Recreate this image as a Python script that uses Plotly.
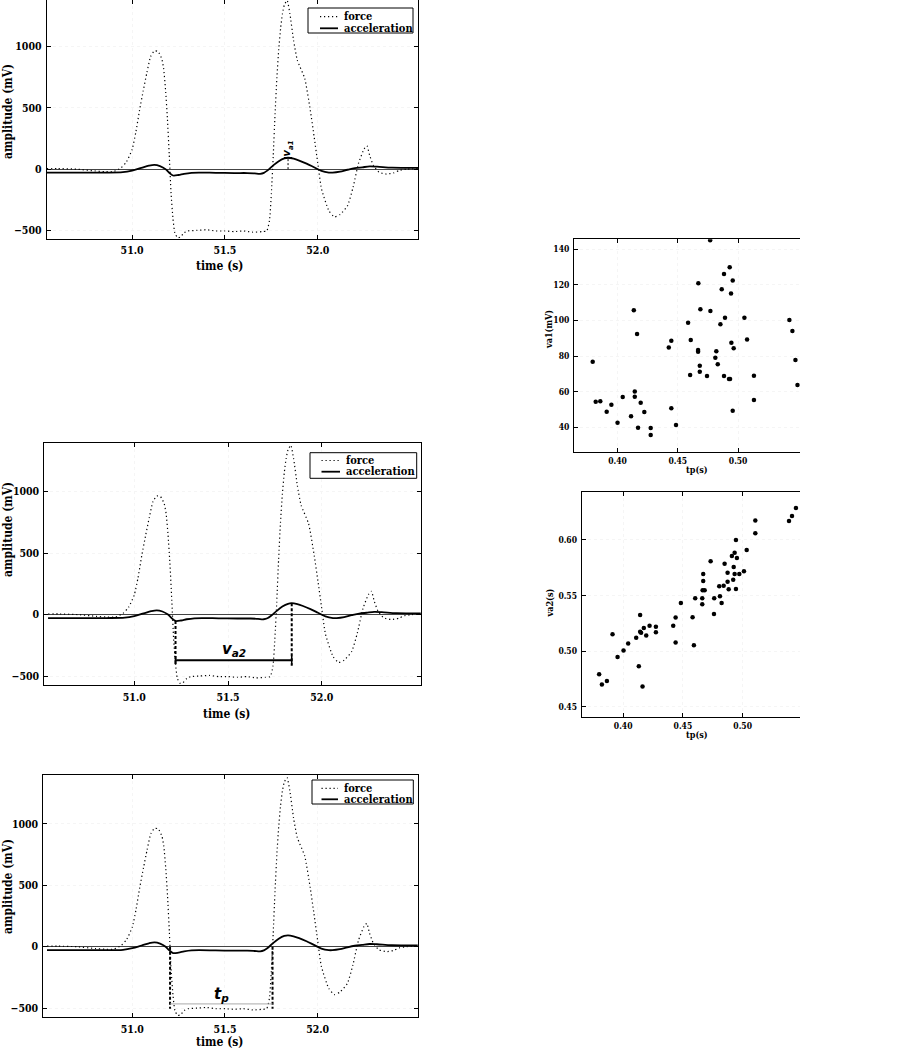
import numpy as np
import plotly.graph_objects as go

W, H = 913, 1048

# ---------------- data ----------------
force_time = [50.54, 50.60, 50.70, 50.80, 50.85, 50.90, 50.94, 50.97, 51.00, 51.02, 51.04, 51.06,
              51.08, 51.10, 51.12, 51.14, 51.16, 51.17, 51.18, 51.19, 51.20, 51.21, 51.22, 51.23,
              51.245, 51.26, 51.28, 51.30, 51.35, 51.40, 51.45, 51.50, 51.55, 51.60, 51.65, 51.70,
              51.725, 51.74, 51.75, 51.76, 51.77, 51.78, 51.79, 51.80, 51.81, 51.82, 51.835, 51.85,
              51.87, 51.89, 51.93, 51.96, 51.98, 52.00, 52.02, 52.06, 52.09, 52.12, 52.16, 52.19,
              52.22, 52.25, 52.265, 52.28, 52.30, 52.33, 52.37, 52.41, 52.44, 52.48, 52.54]
force_mv = [5, 5, 0, -15, -20, -20, 10, 60, 160, 300, 480, 640,
            790, 920, 965, 960, 900, 820, 650, 420, 120, -200, -400, -520,
            -560, -555, -520, -505, -500, -495, -505, -505, -510, -505, -515, -510,
            -505, -420, -200, 100, 450, 750, 980, 1150, 1270, 1340, 1378, 1270,
            1050, 890, 740, 480, 270, 50, -160, -340, -390, -370, -300, -150,
            50, 165, 190, 110, 30, -25, -40, -30, -10, 0, 5]

accel_time = [50.54, 50.70, 50.85, 50.95, 51.00, 51.05, 51.09, 51.12, 51.15, 51.18, 51.20, 51.22,
              51.25, 51.28, 51.32, 51.36, 51.45, 51.55, 51.62, 51.66, 51.69, 51.71, 51.73, 51.76,
              51.79, 51.82, 51.84, 51.87, 51.90, 51.94, 51.98, 52.02, 52.06, 52.08, 52.12, 52.16,
              52.20, 52.24, 52.28, 52.32, 52.40, 52.54]
accel_mv = [-28, -28, -28, -25, -12, 10, 28, 35, 25, 0, -30, -52,
            -48, -38, -30, -28, -30, -32, -32, -35, -38, -30, -10, 30,
            65, 88, 93, 85, 70, 45, 15, -15, -28, -28, -20, -5,
            8, 15, 22, 20, 12, 10]

tp_1 = [0.3794, 0.3819, 0.3857, 0.3949, 0.3910, 0.4000, 0.4043, 0.4135, 0.4162, 0.4143, 0.4143,
        0.4112, 0.4192, 0.4222, 0.4170, 0.4275, 0.4275, 0.4425, 0.4446, 0.4446, 0.4485, 0.4585,
        0.4607, 0.4670, 0.4687, 0.4770, 0.4768, 0.4668, 0.4668, 0.4602, 0.4682, 0.4682, 0.4742,
        0.4811, 0.4819, 0.4831, 0.4853, 0.4864, 0.4883, 0.4891, 0.4930, 0.4955, 0.4941, 0.4944,
        0.4963, 0.4883, 0.4924, 0.4933, 0.5052, 0.5074, 0.5131, 0.5131, 0.4955, 0.5425, 0.5450,
        0.5475, 0.5492]
va1_mv = [76.9, 54.4, 54.6, 52.7, 48.8, 42.6, 57.0, 105.7, 92.4, 60.2, 57.2,
          46.3, 53.8, 48.6, 39.8, 39.6, 35.7, 84.9, 88.7, 50.7, 41.3, 98.8,
          89.0, 120.9, 106.3, 105.3, 145.0, 83.4, 82.5, 69.4, 74.6, 71.2, 68.8,
          79.1, 82.7, 75.4, 97.9, 117.5, 126.1, 101.6, 129.9, 122.4, 115.1, 87.5,
          84.4, 68.8, 67.1, 67.1, 101.6, 89.4, 69.0, 55.3, 49.3, 100.3, 94.1,
          77.8, 63.8]

tp_2 = [0.3799, 0.3822, 0.3864, 0.3911, 0.3953, 0.4003, 0.4042, 0.4109, 0.4131, 0.4142, 0.4142,
        0.4150, 0.4173, 0.4162, 0.4193, 0.4221, 0.4274, 0.4274, 0.4483, 0.4439, 0.4419, 0.4439,
        0.4581, 0.4592, 0.4603, 0.4662, 0.4662, 0.4665, 0.4682, 0.4670, 0.4670, 0.4732, 0.4762,
        0.4760, 0.4804, 0.4810, 0.4824, 0.4841, 0.4849, 0.4874, 0.4874, 0.4883, 0.4910, 0.4925,
        0.4933, 0.4921, 0.4933, 0.4944, 0.4944, 0.4952, 0.4972, 0.5011, 0.5034, 0.5106, 0.5106,
        0.5388, 0.5413, 0.5446]
va2_s = [0.4792, 0.4699, 0.4732, 0.5152, 0.4948, 0.5005, 0.5068, 0.5121, 0.4864, 0.5326, 0.5175,
         0.5165, 0.5209, 0.4681, 0.5141, 0.5229, 0.5220, 0.5170, 0.5434, 0.5302, 0.5229, 0.5077,
         0.5305, 0.5053, 0.5476, 0.5476, 0.5422, 0.5548, 0.5548, 0.5631, 0.5694, 0.5808, 0.5476,
         0.5334, 0.5583, 0.5494, 0.5434, 0.5589, 0.5787, 0.5706, 0.5625, 0.5557, 0.5856, 0.5757,
         0.5886, 0.5643, 0.5694, 0.6000, 0.5559, 0.5838, 0.5694, 0.5718, 0.5910, 0.6174, 0.6060,
         0.6170, 0.6216, 0.6288]

time_ticks = [51.0, 51.5, 52.0]
amp_ticks = [-500, 0, 500, 1000]
tp_ticks = [0.40, 0.45, 0.50]
va1_ticks = [40, 60, 80, 100, 120, 140]
va2_ticks = [0.45, 0.50, 0.55, 0.60]
legend_labels = ["force", "acceleration"]

# ---------------- derived annotation anchors ----------------
at = np.array(accel_time); av = np.array(accel_mv)
i_max = int(np.argmax(av))
t_peak, v_peak = at[i_max], av[i_max]
win = (at > 51.15) & (at < 51.4)
i_min = np.where(win)[0][int(np.argmin(av[win]))]
t_min, v_min = at[i_min], av[i_min]

ft = np.array(force_time); fv = np.array(force_mv)
def crossing(direction, after):
    for k in range(len(ft) - 1):
        if ft[k] < after:
            continue
        a, b = fv[k], fv[k + 1]
        if (direction < 0 and a >= 0 > b) or (direction > 0 and a < 0 <= b):
            return ft[k] + (0 - a) / (b - a) * (ft[k + 1] - ft[k])
    return None
t_down = crossing(-1, 51.1)
t_up = crossing(+1, 51.5)

# ---------------- layout helpers ----------------
SERIF = "DejaVu Serif Condensed, DejaVu Serif, serif"

def px_x(p): return p / W
def px_y(p): return 1 - p / H

FORCE_DASH = "1.2px,2.8px"

panels = [
    dict(n="", xb=(46.7, 418), yb=(0, 238.7), xr=[50.54, 52.54], yr=[-568, 1381],
         leg=dict(box=(308, 413, 8, 33), rows=(16.7, 28.3), sx=(320, 338), tx=342)),
    dict(n="2", xb=(44.3, 420.7), yb=(443.3, 685), xr=[50.52, 52.528], yr=[-573, 1394],
         leg=dict(box=(310, 416.7, 452.7, 478.3), rows=(460.5, 471.7), sx=(321.5, 340), tx=344)),
    dict(n="3", xb=(43.3, 418.3), yb=(775, 1017.3), xr=[50.52, 52.543], yr=[-575, 1399],
         leg=dict(box=(312, 413.3, 780, 804), rows=(788.3, 799.3), sx=(321.5, 338), tx=342)),
]

fig = go.Figure()
for k, p in enumerate(panels):
    xa = "x" + p["n"]; ya = "y" + p["n"]
    fig.add_trace(go.Scatter(x=force_time, y=force_mv, mode="lines", name=legend_labels[0],
                             line=dict(color="black", width=1.2, dash=FORCE_DASH, shape="spline",
                                       smoothing=0.5),
                             xaxis=xa, yaxis=ya, showlegend=False))
    fig.add_trace(go.Scatter(x=accel_time, y=accel_mv, mode="lines", name=legend_labels[1],
                             line=dict(color="black", width=1.8, shape="spline", smoothing=0.9),
                             xaxis=xa, yaxis=ya, showlegend=False))

fig.add_trace(go.Scatter(x=tp_1, y=va1_mv, mode="markers", showlegend=False,
                         marker=dict(color="black", size=4.5), xaxis="x4", yaxis="y4"))
fig.add_trace(go.Scatter(x=tp_2, y=va2_s, mode="markers", showlegend=False,
                         marker=dict(color="black", size=4.5), xaxis="x5", yaxis="y5"))

tickfont = dict(family=SERIF, size=10.5, color="black", weight="bold")
tickfont_s = dict(family=SERIF, size=8.5, color="black", weight="bold")
lay = dict(width=W, height=H, margin=dict(l=0, r=0, t=0, b=0),
           paper_bgcolor="white", plot_bgcolor="white", showlegend=False)

common_axis = dict(showline=True, linecolor="black", linewidth=1, ticks="inside", ticklen=4,
                   tickcolor="black", showgrid=True, gridcolor="#f5f5f5", griddash="dot",
                   zeroline=False, ticklabelstandoff=2)

for p in panels:
    n = p["n"]
    lay["xaxis" + n] = dict(common_axis, domain=[px_x(p["xb"][0]), px_x(p["xb"][1])],
                            range=p["xr"], anchor="y" + n, tickvals=time_ticks,
                            tickformat=".1f", mirror="ticks", tickfont=tickfont)
    lay["yaxis" + n] = dict(common_axis, domain=[px_y(p["yb"][1]), px_y(p["yb"][0])],
                            range=p["yr"], anchor="x" + n, tickvals=amp_ticks,
                            mirror="ticks", tickfont=tickfont, zeroline=True,
                            zerolinecolor="#444", zerolinewidth=1)

sx_axis = dict(common_axis, ticklabelstandoff=0)
lay["xaxis4"] = dict(sx_axis, domain=[px_x(574), px_x(800)], range=[0.3639, 0.5513],
                     anchor="y4", tickvals=tp_ticks, tickformat=".2f", mirror="ticks",
                     tickfont=tickfont_s)
lay["yaxis4"] = dict(common_axis, domain=[px_y(452.3), px_y(239.3)], range=[26, 145.6],
                     anchor="x4", tickvals=va1_ticks, tickfont=tickfont_s)
lay["xaxis5"] = dict(sx_axis, domain=[px_x(581.7), px_x(800)], range=[0.3653, 0.548],
                     anchor="y5", tickvals=tp_ticks, tickformat=".2f", mirror="ticks",
                     tickfont=tickfont_s)
lay["yaxis5"] = dict(common_axis, domain=[px_y(717.3), px_y(491.7)], range=[0.4405, 0.6434],
                     anchor="x5", tickvals=va2_ticks, tickformat=".2f", tickfont=tickfont_s)

fig.update_layout(**lay)

# ---------------- annotations / guide lines ----------------
shapes = []
annotations = []
legfont = dict(family=SERIF, size=11, color="black", weight="bold")
C = dict(xanchor="center", yanchor="middle", showarrow=False)

# legends (drawn as boxes + samples + labels)
for p in panels:
    lg = p["leg"]
    x0, x1, y0, y1 = lg["box"]
    shapes.append(dict(type="rect", xref="paper", yref="paper", x0=px_x(x0), x1=px_x(x1),
                       y0=px_y(y1), y1=px_y(y0), line=dict(color="black", width=1),
                       fillcolor="white", layer="above"))
    for r, (lab, sty) in enumerate(zip(legend_labels,
                                       [dict(width=1.2, dash=FORCE_DASH), dict(width=1.8)])):
        yy = lg["rows"][r]
        shapes.append(dict(type="line", xref="paper", yref="paper", x0=px_x(lg["sx"][0]),
                           x1=px_x(lg["sx"][1]), y0=px_y(yy), y1=px_y(yy),
                           line=dict(color="black", **sty), layer="above"))
        annotations.append(dict(text=lab, x=px_x(lg["tx"]), y=px_y(yy), xref="paper",
                                yref="paper", xanchor="left", yanchor="middle",
                                showarrow=False, font=legfont))

# v_a1 marker (panel 1)
shapes.append(dict(type="line", xref="x", yref="y", x0=t_peak, x1=t_peak, y0=0, y1=v_peak,
                   line=dict(color="black", width=1, dash="2px,2px")))
shapes.append(dict(type="line", xref="x", yref="y", x0=t_peak - 0.022, x1=t_peak + 0.022,
                   y0=v_peak, y1=v_peak, line=dict(color="black", width=1.5)))
# v_a2 (panel 2)
bar2 = -372
for tt, vv in [(t_min, v_min), (t_peak, v_peak)]:
    shapes.append(dict(type="line", xref="x2", yref="y2", x0=tt, x1=tt, y0=vv, y1=bar2 - 45,
                       line=dict(color="black", width=2, dash="3px,2px")))
    shapes.append(dict(type="line", xref="x2", yref="y2", x0=tt, x1=tt, y0=bar2 - 35, y1=bar2 + 35,
                       line=dict(color="black", width=1.5)))
shapes.append(dict(type="line", xref="x2", yref="y2", x0=t_min, x1=t_peak, y0=bar2, y1=bar2,
                   line=dict(color="black", width=2)))
# t_p (panel 3)
bar3 = -466
for tt in [t_down, t_up]:
    shapes.append(dict(type="line", xref="x3", yref="y3", x0=tt, x1=tt, y0=0, y1=-505,
                       line=dict(color="black", width=2, dash="3px,2px")))
shapes.append(dict(type="line", xref="x3", yref="y3", x0=t_down, x1=t_up, y0=bar3, y1=bar3,
                   line=dict(color="#aaaaaa", width=1)))

sans_bi = dict(family="DejaVu Sans", color="black", weight="bold", style="italic")
annotations += [
    dict(C, text="v<sub>a1</sub>", x=t_peak, y=v_peak + 75, xref="x", yref="y",
         textangle=-90, font=dict(sans_bi, size=10)),
    dict(C, text="v<sub>a2</sub>", x=(t_min + t_peak) / 2, y=bar2 + 85, xref="x2", yref="y2",
         font=dict(sans_bi, size=15)),
    dict(C, text="t<sub>p</sub>", x=(t_down + t_up) / 2, y=bar3 + 75, xref="x3", yref="y3",
         font=dict(sans_bi, size=15)),
]
labfont = dict(family=SERIF, size=12, color="black", weight="bold")
labfont_s = dict(family=SERIF, size=9, color="black", weight="bold")
for (tx, ty), (ax, ay) in zip([(219, 266.5), (226, 713.5), (219, 1041.5)],
                              [(8, 112), (8, 530), (8, 887)]):
    annotations.append(dict(C, text="time (s)", x=px_x(tx), y=px_y(ty), xref="paper",
                            yref="paper", font=labfont))
    annotations.append(dict(C, text="amplitude (mV)", x=px_x(ax), y=px_y(ay), xref="paper",
                            yref="paper", textangle=-90, font=labfont))
annotations += [
    dict(C, text="tp(s)", x=px_x(697), y=px_y(470), xref="paper", yref="paper", font=labfont_s),
    dict(C, text="va1(mV)", x=px_x(549), y=px_y(330), xref="paper", yref="paper",
         textangle=-90, font=labfont_s),
    dict(C, text="tp(s)", x=px_x(697), y=px_y(735), xref="paper", yref="paper", font=labfont_s),
    dict(C, text="va2(s)", x=px_x(549), y=px_y(603.5), xref="paper", yref="paper",
         textangle=-90, font=labfont_s),
]
fig.update_layout(shapes=shapes, annotations=annotations)

fig.write_html("out.html", config={"displayModeBar": False},
               post_script="document.body.style.margin='0px';document.body.style.overflow='hidden';")
